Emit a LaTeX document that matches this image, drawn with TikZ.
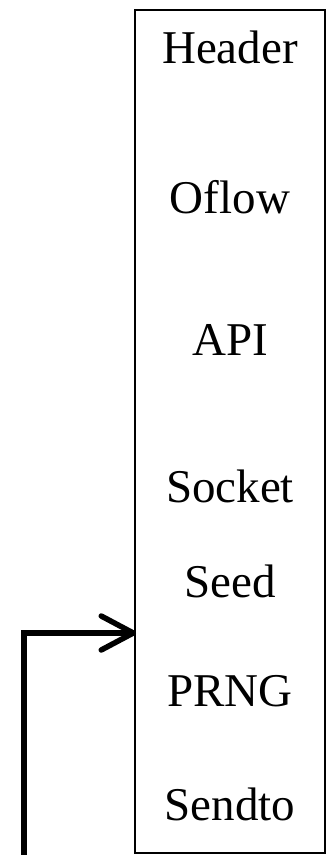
\documentclass[tikz,border=0pt]{standalone}
\usepackage{fontspec}
\setmainfont{Liberation Serif}
\usetikzlibrary{arrows.meta}
\begin{document}
\begin{tikzpicture}[x=1pt,y=-1pt,
  lbl/.style={anchor=base,inner sep=0pt,font=\fontsize{47}{56}\selectfont},
  stackbox/.style={draw,line width=1.2pt,minimum width=190pt,minimum height=843pt,inner sep=0pt},
  loop/.style={line width=5.5pt,line cap=round,line join=miter,
    -{Straight Barb[length=32pt,width=34pt,line width=5.5pt,round]}}]
\useasboundingbox (0,0) rectangle (331,855);
\node[stackbox] (stack) at (230,431.5) {};
\node[lbl] (header) at (230,63) {Header};
\node[lbl] (oflow) at (230,213) {Oflow};
\node[lbl] (api) at (230,355) {API};
\node[lbl] (socket) at (230,502) {Socket};
\node[lbl] (seed) at (230,597) {Seed};
\node[lbl] (prng) at (230,706) {PRNG};
\node[lbl] (sendto) at (230,820) {Sendto};
\coordinate (start) at (24,858);
\coordinate (tgt) at (136,633);
\draw[loop] (start) |- (tgt);
\end{tikzpicture}
\end{document}
